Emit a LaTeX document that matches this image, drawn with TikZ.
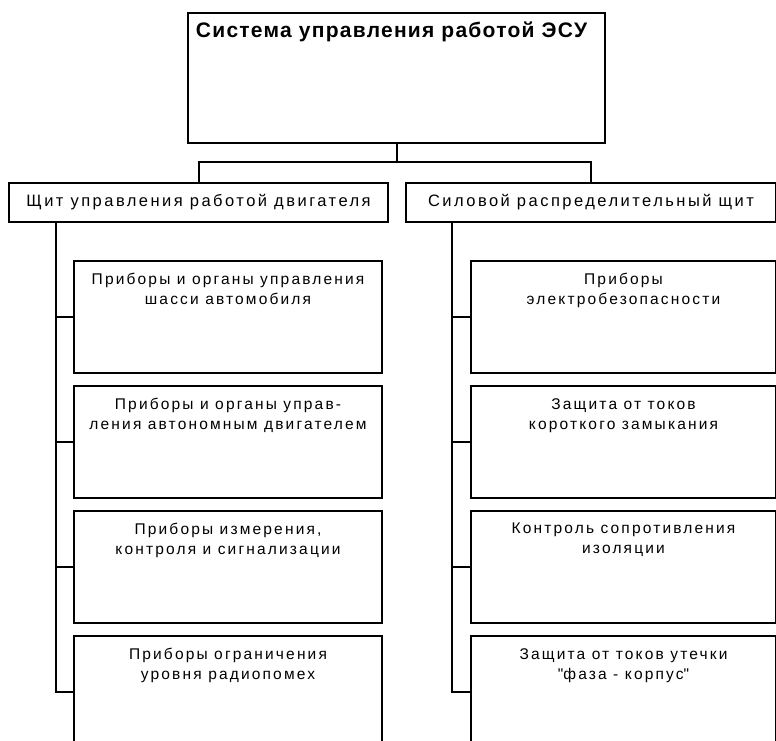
\documentclass[tikz,border=0pt]{standalone}
\usepackage{fontspec}
\setmainfont{Liberation Sans}
\usetikzlibrary{positioning}

\tikzset{
  every box/.style={draw, line width=2pt, inner sep=0pt, anchor=north west},
  box title/.style={font=\fontsize{21}{24}\selectfont\bfseries\addfontfeature{LetterSpace=6}, inner sep=0pt, anchor=north},
  box panel/.style={font=\fontsize{16.5}{20}\selectfont\addfontfeature{LetterSpace=15}, inner sep=0pt},
  box text/.style={font=\fontsize{15.5}{20}\selectfont\addfontfeature{LetterSpace=14}, align=center, inner sep=0pt, anchor=north},
  wire/.style={draw, line width=2pt}
}

\begin{document}
\begin{tikzpicture}[x=1pt, y=-1pt]

\clip (0,0) rectangle (776,740);

% top
\node [every box, minimum width=417pt, minimum height=130pt] (esu) at (187,12) {};
\node [box title, below=10pt of esu.north, xshift=-5pt] (esu-title) {Система управления работой ЭСУ};

% panels
\node [every box, minimum width=379pt, minimum height=39pt] (engine) at (8,182) {};
\node [box panel] (engine-title) at (engine.center) {Щит управления работой двигателя};

\node [every box, minimum width=370pt, minimum height=39pt] (power) at (405,182) {};
\node [box panel] (power-title) at (power.center) {Силовой распределительный щит};

% engine units
\foreach \l [count=\y] in {{Приборы и органы управления\\шасси автомобиля},
                           {Приборы и органы управ-\\ления автономным двигателем},
                           {Приборы измерения,\\контроля и сигнализации},
                           {Приборы ограничения\\уровня радиопомех}}
{
  \node [every box, minimum width=308pt, minimum height=112pt] (eng-\y) at (73,135+125*\y) {};
  \node [box text, below=13pt of eng-\y.north] (eng-text-\y) {\l};
}

% power units
\foreach \l [count=\y] in {{Приборы\\электробезопасности},
                           {Защита от токов\\короткого замыкания},
                           {Контроль сопротивления\\изоляции},
                           {Защита от токов утечки\\\textquotedbl фаза - корпус\textquotedbl}}
{
  \node [every box, minimum width=305pt, minimum height=112pt] (pow-\y) at (470,135+125*\y) {};
  \node [box text, below=13pt of pow-\y.north] (pow-text-\y) {\l};
}

% Connections

% top -> panels
\coordinate (bus) at (0,162);
\draw [wire] (esu.south) -- (esu.south |- bus);
\draw [wire] (engine.north) |- (bus -| power.north) -- (power.north);

% engine -> units
\draw [wire] ([xshift=48pt]engine.south west) |- (eng-4.west);
\foreach \i in {1,...,3}
  \draw [wire] (eng-\i.west) -- ++(-17,0);

% power -> units
\draw [wire] ([xshift=47pt]power.south west) |- (pow-4.west);
\foreach \i in {1,...,3}
  \draw [wire] (pow-\i.west) -- ++(-18,0);

\end{tikzpicture}
\end{document}
